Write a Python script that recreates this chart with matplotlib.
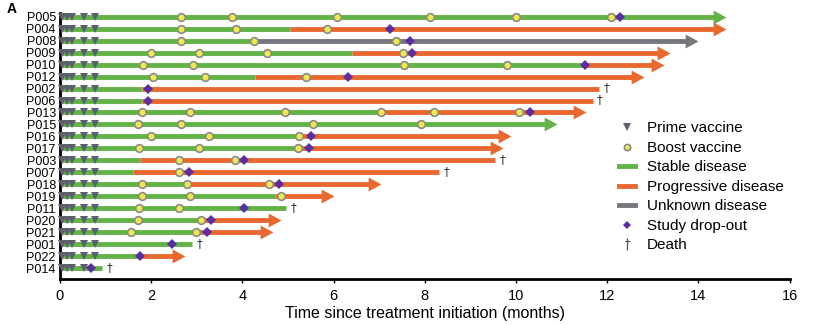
import matplotlib
matplotlib.use("Agg")
import matplotlib.pyplot as plt
from matplotlib.lines import Line2D
from matplotlib.path import Path

plt.rcParams['font.family'] = ['Liberation Sans', 'DejaVu Sans']

# Patients, top to bottom
patients = ["P005", "P004", "P008", "P009", "P010", "P012", "P002", "P006", "P013", "P015", "P016",
            "P017", "P003", "P007", "P018", "P019", "P011", "P020", "P021", "P001", "P022", "P014"]
# Time (months) at which stable disease ends
stable_end = [14.6, 5.05, 4.25, 6.41, 11.52, 4.28, 1.79, 1.79, 7.05, 10.89, 5.25,
              5.21, 1.75, 1.59, 2.85, 4.72, 4.95, 3.15, 3.05, 2.89, 1.75, 0.93]
# Disease state after stable phase: "S" stable, "P" progressive, "U" unknown
later_state = ["S", "P", "U", "P", "P", "P", "P", "P", "P", "S", "P",
               "P", "P", "P", "P", "P", "S", "P", "P", "S", "P", "S"]
# End of follow-up (months)
follow_end = [14.6, 14.6, 14.0, 13.38, 13.25, 12.8, 11.83, 11.68, 11.53, 10.89, 9.9,
              9.72, 9.55, 8.31, 7.05, 6.0, 4.95, 4.85, 4.67, 2.89, 2.75, 0.93]
# "arrow" = ongoing, "death" = died
outcome = ["arrow", "arrow", "arrow", "arrow", "arrow", "arrow", "death", "death", "arrow", "arrow", "arrow",
           "arrow", "death", "death", "arrow", "arrow", "death", "arrow", "arrow", "death", "arrow", "death"]
boosts = [
    [2.66, 3.78, 6.07, 8.12, 9.99, 12.09],
    [2.66, 3.85, 5.85],
    [2.66, 4.25, 7.37],
    [2.0, 3.04, 4.54, 7.52],
    [1.81, 2.91, 7.54, 9.81],
    [2.04, 3.18, 5.39],
    [],
    [],
    [1.79, 2.84, 4.94, 7.05, 8.2, 10.07],
    [1.72, 2.65, 5.54, 7.91],
    [2.0, 3.27, 5.25],
    [1.74, 3.05, 5.21],
    [2.6, 3.83],
    [2.6],
    [1.8, 2.78, 4.59],
    [1.8, 2.85, 4.85],
    [1.74, 2.62],
    [1.72, 3.09],
    [1.55, 2.99],
    [],
    [],
    [],
]
dropout = [12.29, 7.23, 7.68, 7.73, 11.52, 6.32, 1.94, 1.94, 10.31, None, 5.51,
           5.47, 4.04, 2.83, 4.8, None, 4.03, 3.32, 3.22, 2.45, 1.75, 0.67]
prime_times = [0.05, 0.16, 0.27, 0.53, 0.76]
prime_count = [5] * 21 + [4]

state_colors = {"S": "#62b246", "P": "#e8682f", "U": "#76777d"}
boost_face = "#eeea4c"
boost_edge = "#8a8a8a"
prime_color = "#5b606e"
drop_color = "#5a2ea0"

fig = plt.figure(figsize=(8.31, 3.25), dpi=100)
ax = fig.add_axes([0.0722, 0.1415, 0.878, 0.8185])

arrow_head = [(0, 0), (-1, 0.54), (-1, -0.54), (0, 0)]
dagger = Path([(0, -1), (0, 1), (-0.4, 0.45), (0.4, 0.45)],
              [Path.MOVETO, Path.LINETO, Path.MOVETO, Path.LINETO])
lw = 3.5

for i, name in enumerate(patients):
    y = i
    end = follow_end[i]
    switch = min(stable_end[i], end)
    last = later_state[i]
    line_end = end - 0.1 if outcome[i] == "arrow" else end
    # stable phase
    ax.plot([0, min(switch, line_end)], [y, y], color=state_colors["S"], lw=lw,
            solid_capstyle="butt", zorder=2, clip_on=False)
    # later phase
    if last != "S" and switch < end:
        ax.plot([switch, line_end], [y, y], color=state_colors[last], lw=lw,
                solid_capstyle="butt", zorder=2, clip_on=False)
    if outcome[i] == "arrow":
        ax.plot(end, y, marker=arrow_head, markersize=18.5, color=state_colors[last],
                markeredgewidth=0, zorder=2, clip_on=False)
    else:
        ax.text(end + 0.1, y - 0.05, "\u2020", ha="left", va="center", fontsize=8.5,
                color="#333333", family="DejaVu Sans")
    # prime vaccinations
    ax.plot(prime_times[:prime_count[i]], [y] * prime_count[i], linestyle="none", marker="v",
            markersize=6, color=prime_color, markeredgewidth=0, zorder=4, clip_on=False)
    # boost vaccinations
    if boosts[i]:
        ax.plot(boosts[i], [y] * len(boosts[i]), linestyle="none", marker="o", markersize=5.5,
                markerfacecolor=boost_face, markeredgecolor=boost_edge, markeredgewidth=1.2,
                zorder=4, clip_on=False)
    if dropout[i] is not None:
        ax.plot(dropout[i], y, marker="D", markersize=4.6, color=drop_color,
                markeredgewidth=0, zorder=5, clip_on=False)

ax.set_xlim(0, 16)
ax.set_ylim(len(patients) - 1 + 0.89, -0.3)
ax.set_yticks(range(len(patients)))
ax.set_yticklabels(patients, fontsize=9)
ax.tick_params(axis="y", length=0, pad=3)
ax.set_xticks(range(0, 17, 2))
ax.tick_params(axis="x", labelsize=10.5, length=3, width=1, direction="out", pad=4)
ax.set_xlabel("Time since treatment initiation (months)", fontsize=11.5, labelpad=2)
for side in ["top", "right"]:
    ax.spines[side].set_visible(False)
ax.spines["left"].set_linewidth(2)
ax.spines["bottom"].set_linewidth(2)

handles = [
    Line2D([], [], linestyle="none", marker="v", markersize=6, color=prime_color, markeredgewidth=0),
    Line2D([], [], linestyle="none", marker="o", markersize=4.5, markerfacecolor=boost_face,
           markeredgecolor=boost_edge, markeredgewidth=1.2),
    Line2D([], [], color=state_colors["S"], lw=3.5),
    Line2D([], [], color=state_colors["P"], lw=3.5),
    Line2D([], [], color=state_colors["U"], lw=3.5),
    Line2D([], [], linestyle="none", marker="D", markersize=4.5, color=drop_color, markeredgewidth=0),
    Line2D([], [], linestyle="none", marker=dagger, markersize=9, color="#555555", markeredgewidth=0.9),
]
labels = ["Prime vaccine", "Boost vaccine", "Stable disease", "Progressive disease",
          "Unknown disease", "Study drop-out", "Death"]
fig.legend(handles, labels, loc="upper left", bbox_to_anchor=(0.737, 0.645), frameon=False,
           fontsize=11, handlelength=1.1, handletextpad=0.75, labelspacing=0.36, borderaxespad=0)

fig.text(0.008, 0.995, "A", fontsize=10, fontweight="bold", va="top", ha="left")

fig.savefig("out.png", dpi=100)
